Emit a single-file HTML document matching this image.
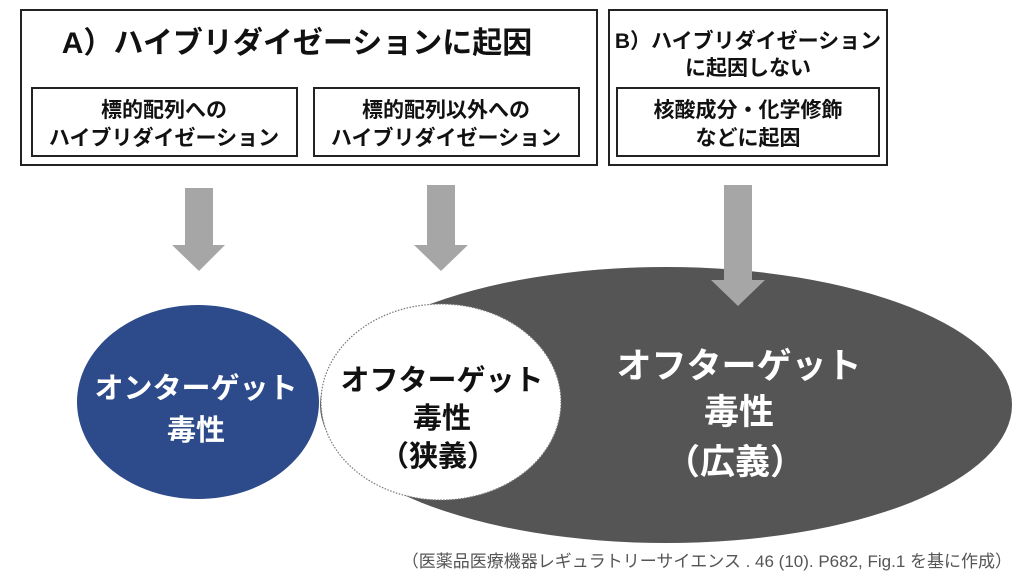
<!DOCTYPE html>
<html><head><meta charset="utf-8"><style>
html,body{margin:0;padding:0;background:#fff;}
svg{display:block;}
text{font-family:"Liberation Sans","Noto Sans CJK JP",sans-serif;font-weight:bold;}
</style></head><body>
<svg width="1024" height="577" viewBox="0 0 1024 577" xmlns="http://www.w3.org/2000/svg">
<rect x="21" y="10" width="576" height="155" fill="#fff" stroke="#222" stroke-width="2"/>
<text x="297" y="53" font-size="30" text-anchor="middle" fill="#111">A）ハイブリダイゼーションに起因</text>
<rect x="32" y="88" width="265" height="68" fill="#fff" stroke="#222" stroke-width="2"/>
<text x="164" y="117" font-size="21" text-anchor="middle" fill="#111">標的配列への</text>
<text x="164" y="145" font-size="21" text-anchor="middle" fill="#111">ハイブリダイゼーション</text>
<rect x="314" y="88" width="265" height="68" fill="#fff" stroke="#222" stroke-width="2"/>
<text x="446" y="117" font-size="21" text-anchor="middle" fill="#111">標的配列以外への</text>
<text x="446" y="145" font-size="21" text-anchor="middle" fill="#111">ハイブリダイゼーション</text>
<rect x="609" y="10" width="278" height="155" fill="#fff" stroke="#222" stroke-width="2"/>
<text x="748" y="48" font-size="21" text-anchor="middle" fill="#111">B）ハイブリダイゼーション</text>
<text x="748" y="75" font-size="21" text-anchor="middle" fill="#111">に起因しない</text>
<rect x="617" y="88" width="262" height="68" fill="#fff" stroke="#222" stroke-width="2"/>
<text x="748" y="117" font-size="21" text-anchor="middle" fill="#111">核酸成分・化学修飾</text>
<text x="748" y="145" font-size="21" text-anchor="middle" fill="#111">などに起因</text>

<ellipse cx="666" cy="405" rx="346" ry="138" fill="#555"/>
<polygon points="185,188 213,188 213,245 225,245 199,271 172,245 185,245" fill="#a6a6a6"/>
<polygon points="427,185 455,185 455,245 468,245 441,271 414,245 427,245" fill="#a6a6a6"/>
<polygon points="724,185 752,185 752,280 765,280 738,306 711,280 724,280" fill="#a6a6a6"/>
<ellipse cx="198" cy="402" rx="121" ry="97" fill="#2d4b8a"/>
<ellipse cx="441" cy="402" rx="120" ry="98" fill="#fff" stroke="#777" stroke-width="1.2" stroke-dasharray="1.5 1.5"/>
<text x="196" y="398" font-size="29" text-anchor="middle" fill="#fff">オンターゲット</text>
<text x="196" y="440" font-size="29" text-anchor="middle" fill="#fff">毒性</text>
<text x="442" y="390" font-size="29" text-anchor="middle" fill="#111">オフターゲット</text>
<text x="442" y="428" font-size="29" text-anchor="middle" fill="#111">毒性</text>
<text x="438" y="466" font-size="29" text-anchor="middle" fill="#111">（狭義）</text>
<text x="739" y="378" font-size="35" text-anchor="middle" fill="#fff">オフターゲット</text>
<text x="739" y="424" font-size="35" text-anchor="middle" fill="#fff">毒性</text>
<text x="735" y="474" font-size="35" text-anchor="middle" fill="#fff">（広義）</text>
<text x="1012" y="567" font-size="17" text-anchor="end" fill="#555" style="font-weight:normal">（医薬品医療機器レギュラトリーサイエンス . 46 (10). P682, Fig.1 を基に作成）</text>
</svg>
</body></html>
